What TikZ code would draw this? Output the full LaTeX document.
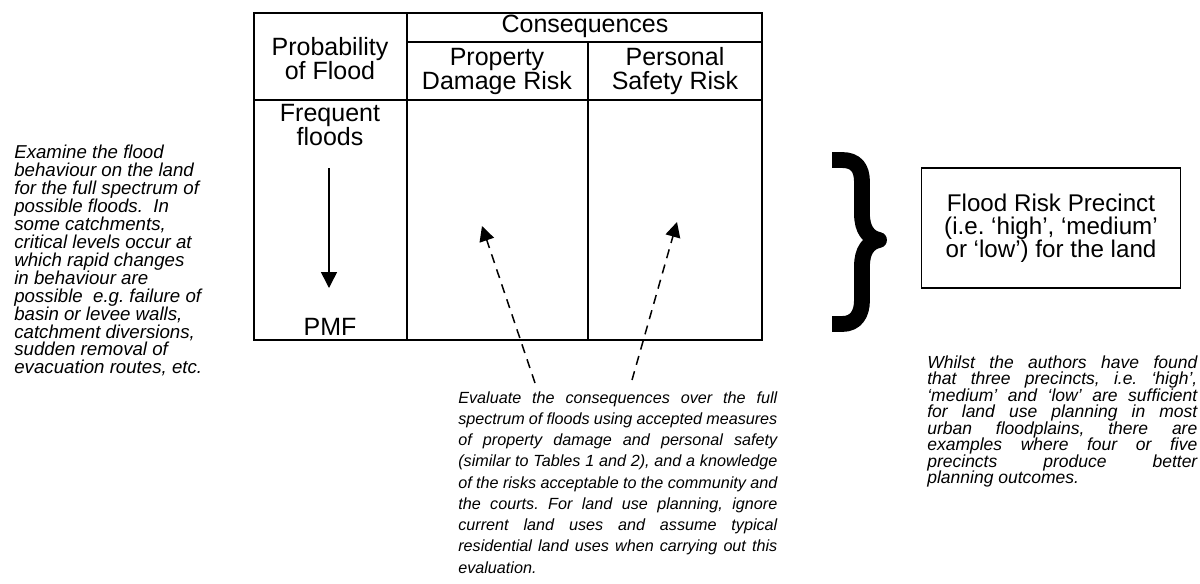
\documentclass[tikz,border=0pt]{standalone}
\usepackage{fontspec}
\setmainfont{Liberation Sans}
\usepackage{tikz}
\usetikzlibrary{arrows.meta,positioning}
\frenchspacing
\tikzset{
  gridline/.style={line width=1.2pt,draw=black},
  headtext/.style={font=\fontsize{15}{14.4}\selectfont,align=center,inner sep=0pt},
  notetext/.style={font=\fontsize{11.2}{10.75}\selectfont\itshape,align=left,inner sep=0pt},
  downarr/.style={-{Triangle[length=9.5pt,width=9.5pt]},line width=0.9pt},
  dasharr/.style={-{Triangle[length=9pt,width=9pt]},line width=0.9pt,dash pattern=on 5.5pt off 4pt}
}
\newcommand\jline[2]{\makebox[#1][s]{#2}}

\begin{document}
\begin{tikzpicture}[
  x=0.6pt,y=-0.6pt,
  bracestroke/.style={line width=9.5pt,line join=round},
  precinctbox/.style={draw,line width=0.9pt,minimum width=155.4pt,minimum height=72pt}
]
  \useasboundingbox (0,0) rectangle (1200,583);

  % table frame
  \coordinate (tNW) at (254,13);
  \coordinate (tSE) at (762,340);
  \coordinate (colA) at (407,13);
  \coordinate (colAb) at (407,340);
  \coordinate (colB) at (588,42);
  \coordinate (colBb) at (588,340);
  \coordinate (conL) at (407,42);
  \coordinate (conR) at (762,42);
  \coordinate (hdL) at (254,100);
  \coordinate (hdR) at (762,100);

  \draw[gridline] (tNW) rectangle (tSE);
  \draw[gridline] (colA)--(colAb);
  \draw[gridline] (colB)--(colBb);
  \draw[gridline] (conL)--(conR);
  \draw[gridline] (hdL)--(hdR);

  \node[headtext] (prob) at (330,59) {Probability\\of Flood};
  \node[headtext] (conseq) at (585,26) {Consequences};
  \node[headtext] (propdmg) at (497,71) {Property\\Damage Risk};
  \node[headtext] (safety) at (675,71) {Personal\\Safety Risk};
  \node[headtext] (freq) at (330,125) {Frequent\\floods};
  \node[headtext] (pmf) at (330,327) {PMF};

  \coordinate (pTop) at (329,168);
  \coordinate (pBot) at (329,288);
  \draw[downarr] (pTop)--(pBot);

  % notes
  \node[notetext,anchor=north west] (examine) at (14,145)
    {Examine the flood\\
     behaviour on the land\\
     for the full spectrum of\\
     possible floods.\ \ In\\
     some catchments,\\
     critical levels occur at\\
     which rapid changes\\
     in behaviour are\\
     possible\ \ e.g. failure of\\
     basin or levee walls,\\
     catchment diversions,\\
     sudden removal of\\
     evacuation routes, etc.};

  \node[notetext,font=\fontsize{9.7}{12.75}\selectfont\itshape,anchor=north west] (evaluate) at (458,391)
    {\jline{191.4pt}{Evaluate the consequences over the full}\\
     \jline{191.4pt}{spectrum of floods using accepted measures}\\
     \jline{191.4pt}{of property damage and personal safety}\\
     \jline{191.4pt}{(similar to Tables 1 and 2), and a knowledge}\\
     \jline{191.4pt}{of the risks acceptable to the community and}\\
     \jline{191.4pt}{the courts. For land use planning, ignore}\\
     \jline{191.4pt}{current land uses and assume typical}\\
     \jline{191.4pt}{residential land uses when carrying out this}\\
     evaluation.};

  \node[notetext,font=\fontsize{10.5}{9.9}\selectfont\itshape,anchor=north west] (whilst) at (927,355)
    {\jline{162pt}{Whilst the authors have found}\\
     \jline{162pt}{that three precincts, i.e. ‘high’,}\\
     \jline{162pt}{‘medium’ and ‘low’ are sufficient}\\
     \jline{162pt}{for land use planning in most}\\
     \jline{162pt}{urban floodplains, there are}\\
     \jline{162pt}{examples where four or five}\\
     \jline{162pt}{precincts produce better}\\
     planning outcomes.};

  \coordinate (evalL) at (535,383);
  \coordinate (evalR) at (632,380);
  \coordinate (dmgPt) at (482,226);
  \coordinate (sftPt) at (677,222);
  \draw[dasharr] (evalL)--(dmgPt);
  \draw[dasharr] (evalR)--(sftPt);

  % brace and result
  \draw[bracestroke] (832,160)--(842,160)
    .. controls (856,160) and (862,168) .. (862,182)--(862,214)
    .. controls (862,230) and (869,238) .. (879,240)
    .. controls (869,242) and (862,250) .. (862,266)--(862,300)
    .. controls (862,314) and (856,324) .. (842,324)--(832,324);

  \node[precinctbox,headtext,font=\fontsize{14.5}{13.8}\selectfont] (precinct) at (1051,228)
    {Flood Risk Precinct\\(i.e. ‘high’, ‘medium’\\or ‘low’) for the land};

\end{tikzpicture}
\end{document}
